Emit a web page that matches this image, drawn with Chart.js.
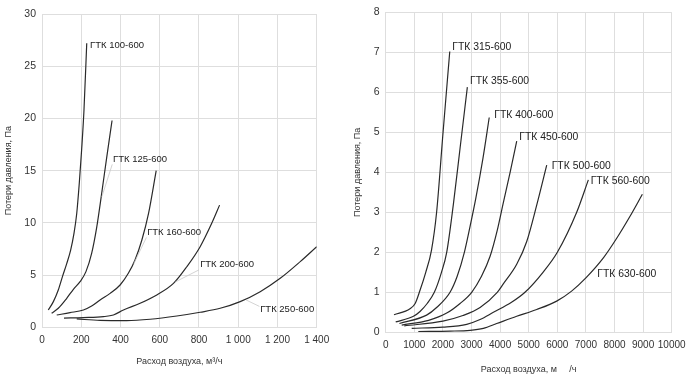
<!DOCTYPE html>
<html><head><meta charset="utf-8">
<script src="https://cdn.jsdelivr.net/npm/chart.js@4"></script>
<style>
html,body{margin:0;padding:0;background:#fff;}
#wrap{position:relative;width:700px;height:382px;overflow:hidden;}
.box{position:absolute;top:0;height:382px;}
#b1{left:0;width:340px;}
#b2{left:350px;width:350px;}
</style></head><body>
<div id="wrap"><div class="box" id="b1"><canvas id="c1"></canvas></div><div class="box" id="b2"><canvas id="c2"></canvas></div></div>
<script>
// ---------- Left chart data (air flow m³/h, pressure loss Pa) ----------
const leftNames = ["ГТК 100-600","ГТК 125-600","ГТК 160-600","ГТК 200-600","ГТК 250-600"];
const g100X = [32,58,83,105,126,146,163,177,190,202,214,228];
const g100Y = [1.66,2.46,3.57,4.9,6.1,7.4,9.0,10.9,13.8,17.0,20.8,27.2];
const g125X = [49,83,126,160,194,224,253,279,304,330,357];
const g125Y = [1.34,1.82,2.78,3.64,4.37,5.33,7.08,9.6,12.8,16.3,19.8];
const g160X = [75,143,211,253,296,347,398,440,474,509,543,582];
const g160Y = [1.18,1.40,1.66,2.04,2.62,3.25,4.05,5.17,6.45,8.36,10.9,15.0];
const g200X = [112,211,313,364,415,500,585,670,738,806,865,905];
const g200Y = [0.88,0.93,1.02,1.18,1.66,2.3,3.1,4.2,5.8,7.72,9.96,11.7];
const g250X = [177,296,432,551,687,806,908,1010,1112,1214,1316,1400];
const g250Y = [0.80,0.66,0.64,0.77,1.08,1.44,1.82,2.46,3.41,4.69,6.29,7.72];
const leftXTicks = [0,200,400,600,800,1000,1200,1400];
const leftYTicks = [0,5,10,15,20,25,30];

// ---------- Right chart data ----------
const rightNames = ["ГТК 315-600","ГТК 355-600","ГТК 400-600","ГТК 450-600","ГТК 500-600","ГТК 560-600","ГТК 630-600"];
const g315X = [290,850,1030,1200,1400,1600,1780,2000,2240];
const g315Y = [0.44,0.59,0.72,1.05,1.5,2.05,3.0,4.95,7.02];
const g355X = [350,970,1200,1450,1700,1950,2133,2366,2600,2855];
const g355Y = [0.26,0.40,0.52,0.72,1.0,1.5,2.0,3.2,4.6,6.13];
const g400X = [480,1430,1780,2250,2500,2750,2950,3150,3400,3620];
const g400Y = [0.22,0.43,0.62,1.0,1.4,2.0,2.65,3.35,4.35,5.37];
const g450X = [560,1500,2133,2600,3007,3350,3650,3900,4100,4350,4581];
const g450Y = [0.18,0.30,0.48,0.72,1.0,1.4,1.9,2.55,3.2,4.0,4.78];
const g500X = [650,2000,2700,3300,3900,4112,4581,4931,5280,5630];
const g500Y = [0.16,0.28,0.42,0.62,1.0,1.21,1.70,2.27,3.18,4.18];
const g560X = [909,2000,2832,3300,3765,4400,4870,5500,6002,6678,7086];
const g560Y = [0.10,0.13,0.2,0.32,0.5,0.75,1.0,1.5,2.0,3.0,3.81];
const g630X = [1140,2250,2950,3415,3881,4580,5280,5979,6500,7000,7611,8077,8543,8974];
const g630Y = [0.02,0.03,0.05,0.10,0.22,0.40,0.57,0.78,1.03,1.36,1.86,2.35,2.9,3.45];
const rightXTicks = [0,1000,2000,3000,4000,5000,6000,7000,8000,9000,10000];
const rightYTicks = [0,1,2,3,4,5,6,7,8];

const FONT = "'Liberation Sans', Arial, sans-serif";
const LINE = '#2a2a2a';
const GRID = '#dedede';

function pts(xs, ys){ return xs.map((x,i)=>({x:x,y:ys[i]})); }
function ds(name, xs, ys){
  return {label:name, data:pts(xs,ys), showLine:true, borderColor:LINE, borderWidth:1.2,
    pointRadius:0, cubicInterpolationMode:'monotone', fill:false};
}

// plugin: curve labels + faint leader lines, positioned in data units
const curveLabels = {
  id:'curveLabels',
  afterDatasetsDraw(chart, args, opts){
    const ctx = chart.ctx, xs = chart.scales.x, ys = chart.scales.y;
    ctx.save();
    (opts.leaders||[]).forEach(l=>{
      ctx.strokeStyle = '#c8c8c8'; ctx.lineWidth = 0.8;
      ctx.beginPath();
      ctx.moveTo(xs.getPixelForValue(l[0]), ys.getPixelForValue(l[1]));
      ctx.lineTo(xs.getPixelForValue(l[2]), ys.getPixelForValue(l[3]));
      ctx.stroke();
    });
    ctx.fillStyle = '#222';
    ctx.font = opts.size + 'px ' + FONT;
    ctx.textAlign = 'left'; ctx.textBaseline = 'middle';
    opts.items.forEach(it=>{
      ctx.fillText(it.t, xs.getPixelForValue(it.x), ys.getPixelForValue(it.y));
    });
    ctx.restore();
  }
};

function fmtSpace(v){ return v >= 1000 ? String(v).replace(/\B(?=(\d{3})+(?!\d))/g,' ') : String(v); }

function makeChart(el, cfg){
  return new Chart(el, {
    type:'scatter',
    data:{datasets:cfg.datasets},
    options:{
      responsive:true, maintainAspectRatio:false, animation:false,
      layout:{padding:cfg.padding},
      plugins:{legend:{display:false}, tooltip:{enabled:false}, curveLabels:cfg.labels},
      scales:{
        x:{type:'linear', min:cfg.xmin, max:cfg.xmax,
          afterBuildTicks:s=>{ s.ticks = cfg.xticks.map(v=>({value:v})); },
          afterFit:s=>{ s.height = cfg.xh; },
          grid:{color:GRID, drawTicks:false, lineWidth:1},
          border:{color:GRID},
          ticks:{padding:cfg.xpad, color:'#333', font:{family:FONT,size:10}, maxRotation:0, autoSkip:false,
            callback:cfg.xfmt},
          title:{display:true, text:cfg.xtitle, color:'#333', font:{family:FONT,size:9}, padding:{top:0,bottom:cfg.xtpad}}
        },
        y:{type:'linear', min:cfg.ymin, max:cfg.ymax,
          afterBuildTicks:s=>{ s.ticks = cfg.yticks.map(v=>({value:v})); },
          afterFit:s=>{ s.width = cfg.yw; },
          grid:{color:GRID, drawTicks:false, lineWidth:1},
          border:{color:GRID},
          ticks:{padding:cfg.ypad, color:'#333', font:{family:FONT,size:10.5}},
          title:{display:true, text:cfg.ytitle, color:'#333', font:{family:FONT,size:9}, padding:{top:cfg.ytpad,bottom:0}}
        }
      }
    },
    plugins:[curveLabels]
  });
}

makeChart(document.getElementById('c1'), {
  datasets:[ds(leftNames[0],g100X,g100Y), ds(leftNames[1],g125X,g125Y), ds(leftNames[2],g160X,g160Y),
            ds(leftNames[3],g200X,g200Y), ds(leftNames[4],g250X,g250Y)],
  padding:{top:14, right:23.3, left:0, bottom:0},
  xmin:0, xmax:1400, xticks:leftXTicks, xh:54.7, xpad:7.4, xfmt:v=>fmtSpace(v),
  ymin:0, ymax:30, yticks:leftYTicks, yw:42, ypad:6,
  xtitle:'Расход воздуха, м³/ч', xtpad:14.9,
  ytitle:'Потери давления, Па', ytpad:3.6,
  labels:{size:9.5,
    items:[{t:leftNames[0],x:245,y:27.0},{t:leftNames[1],x:362,y:16.1},{t:leftNames[2],x:536,y:9.1},
           {t:leftNames[3],x:806,y:6.0},{t:leftNames[4],x:1112,y:1.75}],
    leaders:[[358,15.6,305,12.5],[532,8.6,468,6.1],[800,5.5,680,4.35],[1108,2.0,1040,2.62]]}
});

makeChart(document.getElementById('c2'), {
  datasets:[ds(rightNames[0],g315X,g315Y), ds(rightNames[1],g355X,g355Y), ds(rightNames[2],g400X,g400Y),
            ds(rightNames[3],g450X,g450Y), ds(rightNames[4],g500X,g500Y), ds(rightNames[5],g560X,g560Y),
            ds(rightNames[6],g630X,g630Y)],
  padding:{top:7.3, right:28.3, left:0, bottom:0},
  xmin:0, xmax:10000, xticks:rightXTicks, xh:49.7, xpad:6.7, xfmt:v=>String(v),
  ymin:0, ymax:8, yticks:rightYTicks, yw:35.7, ypad:6,
  xtitle:'Расход воздуха, м     /ч', xtpad:6.6,
  ytitle:'Потери давления, Па', ytpad:2.6,
  labels:{size:10.4,
    items:[{t:rightNames[0],x:2329,y:7.13},{t:rightNames[1],x:2948,y:6.28},{t:rightNames[2],x:3798,y:5.42},
           {t:rightNames[3],x:4672,y:4.88},{t:rightNames[4],x:5805,y:4.16},{t:rightNames[5],x:7169,y:3.78},
           {t:rightNames[6],x:7400,y:1.45}],
    leaders:[]}
});
</script>
</body></html>
